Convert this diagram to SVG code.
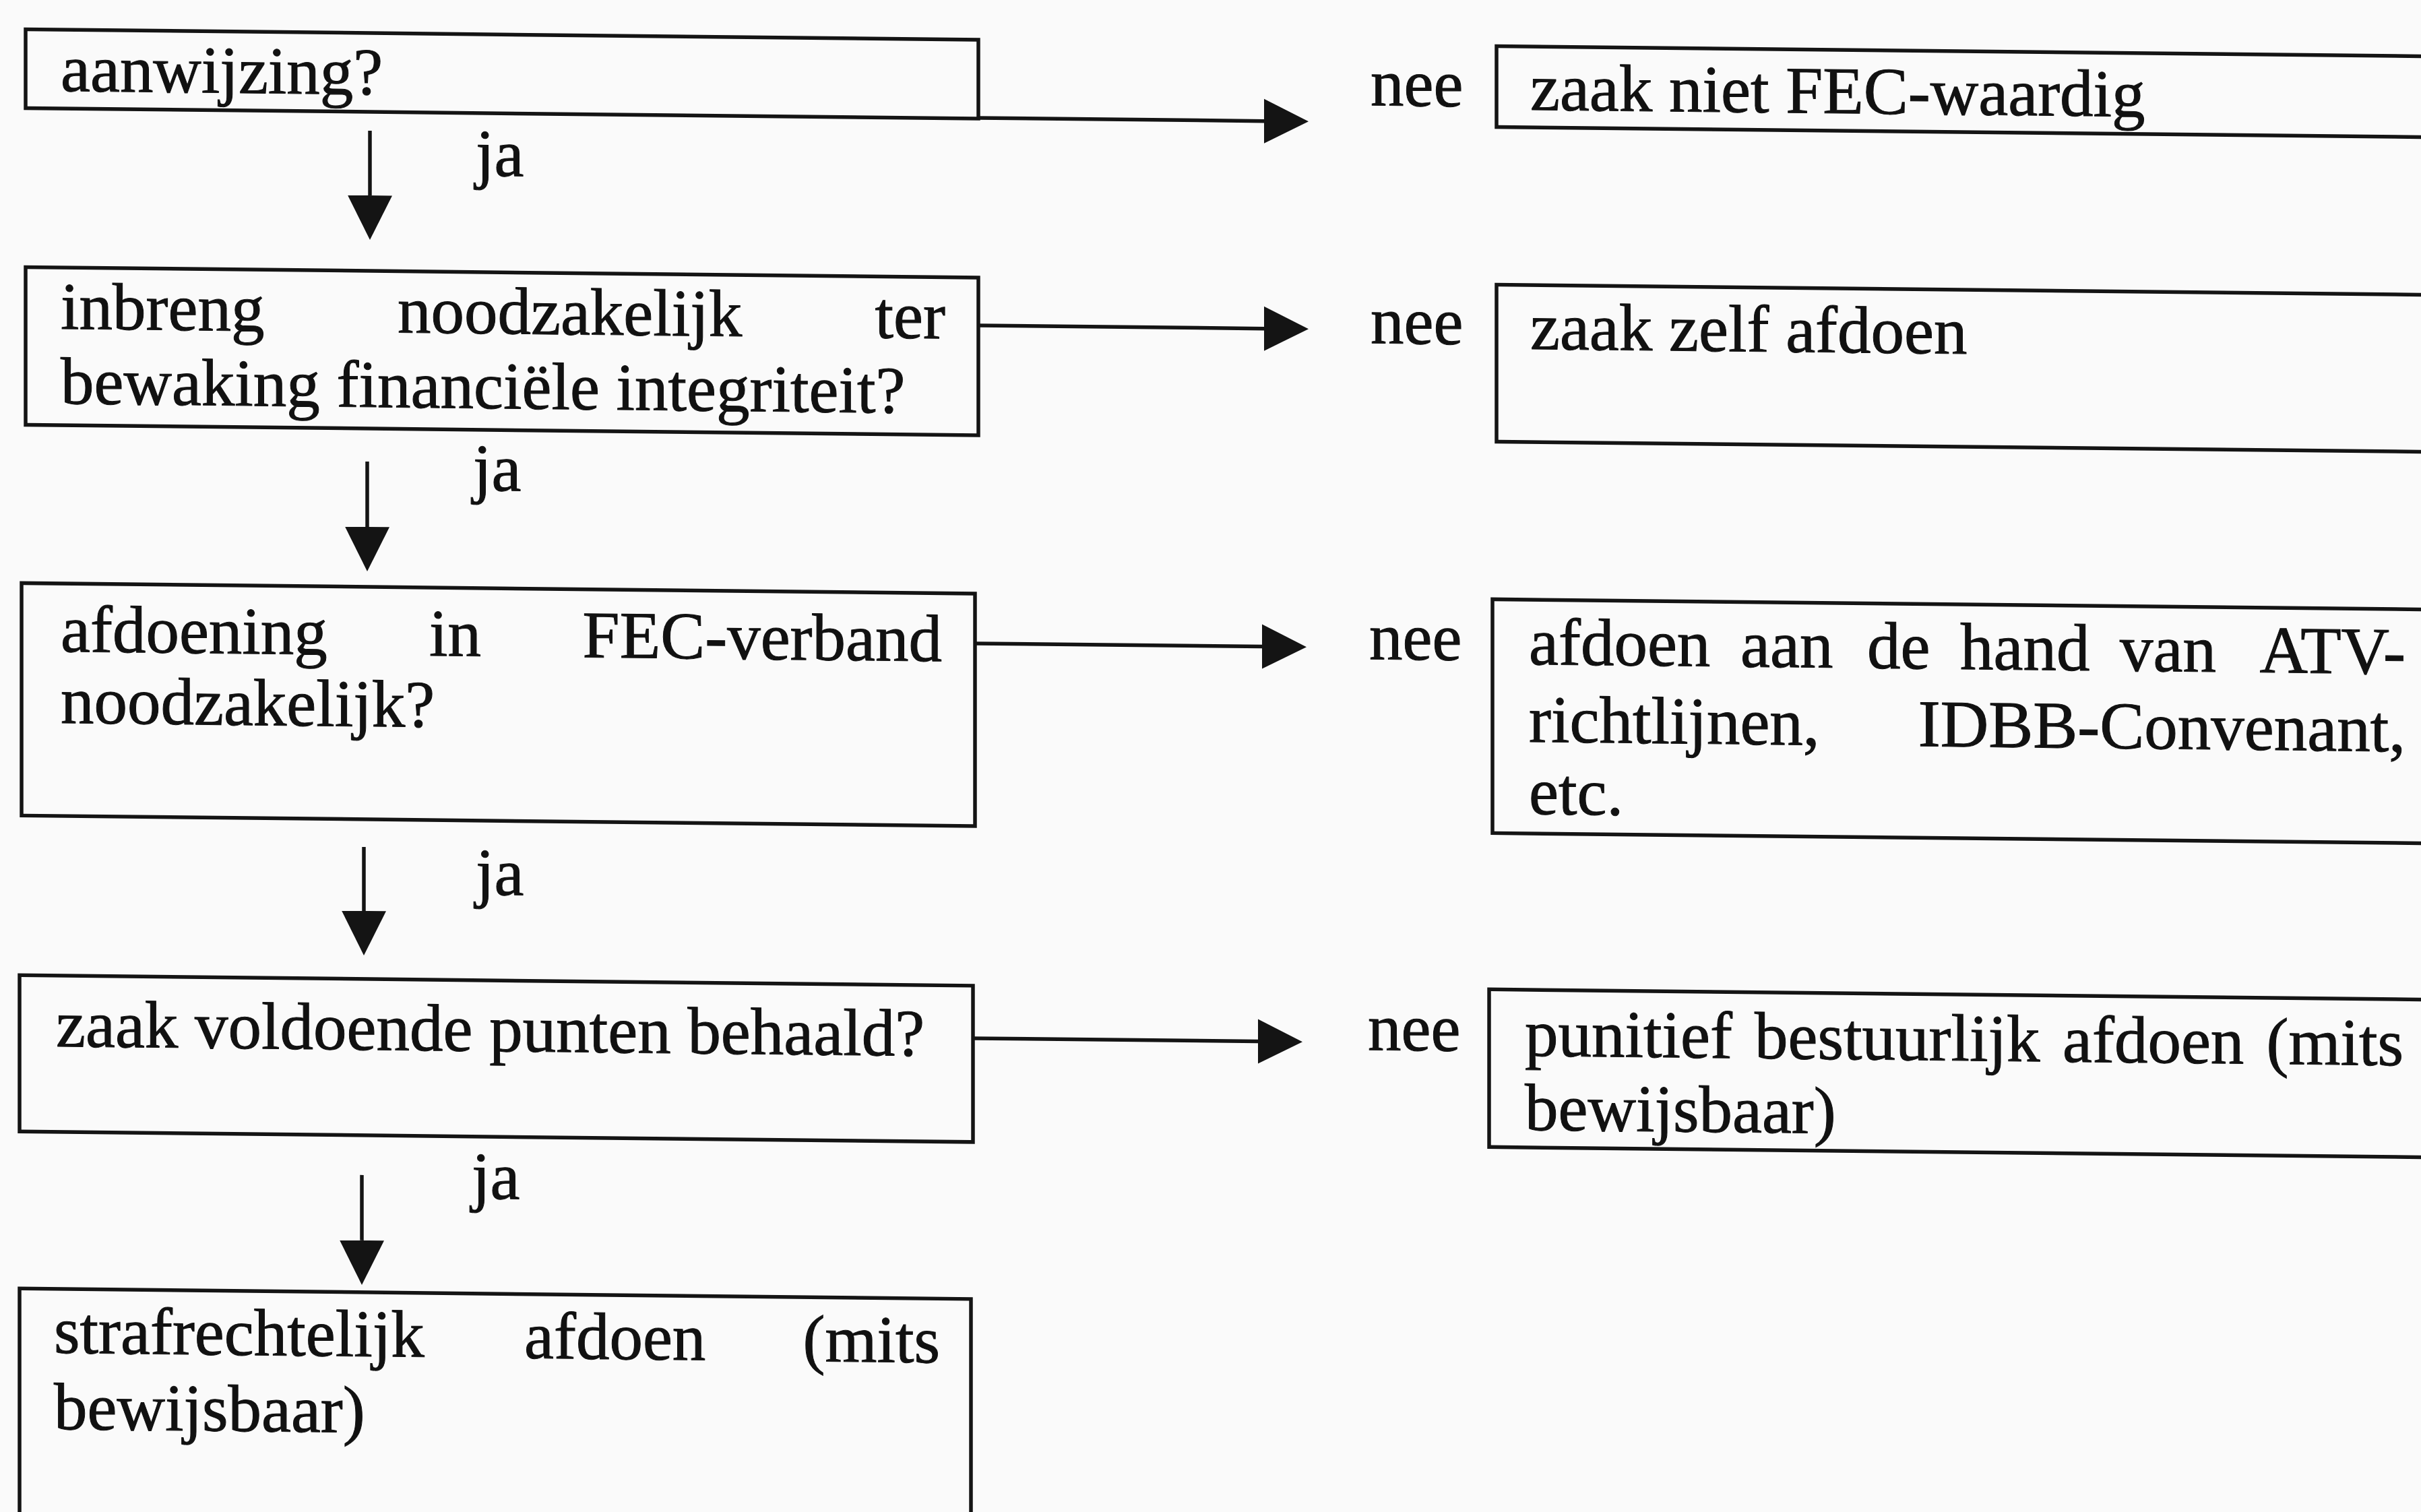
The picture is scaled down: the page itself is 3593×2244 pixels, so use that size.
<svg xmlns="http://www.w3.org/2000/svg" width="3593" height="2244" viewBox="0 0 3593 2244">
<style>
.box{fill:none;stroke:#141414;stroke-width:5.5}
.t{font-family:"Liberation Serif","Times New Roman",serif;font-size:99px;fill:#111;stroke:#111;stroke-width:1}
.e{text-anchor:end}
.conn{stroke:#141414;stroke-width:5.5;fill:none}
</style>
<defs>
<marker id="ah" markerUnits="userSpaceOnUse" markerWidth="70" markerHeight="70" viewBox="0 -35 70 70" refX="0" refY="0" orient="auto">
<path d="M0,-33 L66,0 L0,33 Z" fill="#141414"/>
</marker>
</defs>
<rect x="0" y="0" width="3593" height="2244" fill="#fafafa"/>
<g transform="skewY(0.63)">
<g id="connectors">
<path class="conn" d="M549,188 V284" marker-end="url(#ah)"/>
<path class="conn" d="M545,679 V776" marker-end="url(#ah)"/>
<path class="conn" d="M540,1251 V1346" marker-end="url(#ah)"/>
<path class="conn" d="M537,1738 V1835" marker-end="url(#ah)"/>
<path class="conn" d="M1452,159 H1876" marker-end="url(#ah)"/>
<path class="conn" d="M1452,467 H1876" marker-end="url(#ah)"/>
<path class="conn" d="M1447,939 H1873" marker-end="url(#ah)"/>
<path class="conn" d="M1444,1525 H1867" marker-end="url(#ah)"/>
<text class="t" x="706" y="253">ja</text>
<text class="t" x="702" y="720">ja</text>
<text class="t" x="706" y="1320">ja</text>
<text class="t" x="700" y="1771">ja</text>
<text class="t" x="2034" y="134">nee</text>
<text class="t" x="2034" y="487">nee</text>
<text class="t" x="2032" y="956">nee</text>
<text class="t" x="2030" y="1536">nee</text>
</g>
<g id="q1">
<rect class="box" x="38" y="43" width="1414" height="117"/>
<text class="t" x="90" y="134">aanwijzing?</text>
</g>
<g id="q2">
<rect class="box" x="38" y="396" width="1414" height="234"/>
<text class="t" x="90" y="487">inbreng</text>
<text class="t" x="590" y="487">noodzakelijk</text>
<text class="t e" x="1403" y="487">ter</text>
<text class="t" x="90" y="598">bewaking financiële integriteit?</text>
</g>
<g id="q3">
<rect class="box" x="32" y="865" width="1415" height="345"/>
<text class="t" x="90" y="966">afdoening</text>
<text class="t" x="637" y="966">in</text>
<text class="t e" x="1398" y="966">FEC-verband</text>
<text class="t" x="90" y="1072">noodzakelijk?</text>
</g>
<g id="q4">
<rect class="box" x="29" y="1447" width="1415" height="232"/>
<text class="t" x="83" y="1552">zaak voldoende punten behaald?</text>
</g>
<g id="r5">
<rect class="box" x="29" y="1912" width="1412" height="500"/>
<text class="t" x="80" y="2007">strafrechtelijk</text>
<text class="t" x="778" y="2007">afdoen</text>
<text class="t e" x="1395" y="2007">(mits</text>
<text class="t" x="80" y="2120">bewijsbaar)</text>
</g>
<g id="r1">
<rect class="box" x="2221" y="44" width="1500" height="120"/>
<text class="t" x="2271" y="138">zaak niet FEC-waardig</text>
</g>
<g id="r2">
<rect class="box" x="2221" y="398" width="1500" height="233"/>
<text class="t" x="2271" y="493">zaak zelf afdoen</text>
</g>
<g id="r3">
<rect class="box" x="2215" y="865" width="1500" height="347"/>
<text class="t" x="2269" y="961">afdoen</text>
<text class="t" x="2583" y="961">aan</text>
<text class="t" x="2771" y="961">de</text>
<text class="t" x="2909" y="961">hand</text>
<text class="t" x="3146" y="961">van</text>
<text class="t e" x="3570" y="961">ATV-</text>
<text class="t" x="2269" y="1076">richtlijnen,</text>
<text class="t e" x="3570" y="1076">IDBB-Convenant,</text>
<text class="t" x="2269" y="1183">etc.</text>
</g>
<g id="r4">
<rect class="box" x="2210" y="1444" width="1500" height="234"/>
<text class="t" x="2263" y="1542">punitief</text>
<text class="t" x="2604" y="1542">bestuurlijk</text>
<text class="t" x="3061" y="1542">afdoen</text>
<text class="t e" x="3567" y="1542">(mits</text>
<text class="t" x="2263" y="1652">bewijsbaar)</text>
</g>
</g>
</svg>
